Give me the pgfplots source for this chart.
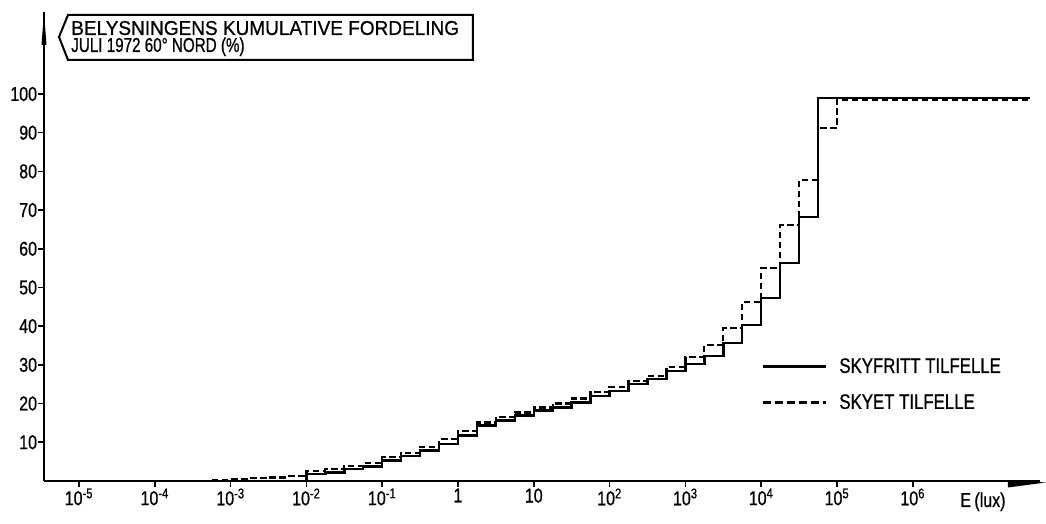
\documentclass[border=0pt]{standalone}
\usepackage{fontspec}
\setmainfont{Liberation Sans}[FakeStretch=0.87]
\newfontfamily\titlefont{Liberation Sans}[FakeStretch=0.95, FakeBold=0.8]
\newfontfamily\titlefontb{Liberation Sans}[FakeStretch=0.76, FakeBold=0.8]
\newfontfamily\legfont{Liberation Sans}[FakeStretch=0.8, FakeBold=0.8]
\newfontfamily\tickfont{Liberation Sans}[FakeStretch=0.8, FakeBold=0.8]
\usepackage{pgfplots}
\pgfplotsset{compat=1.18}

\pgfplotstableread{
x y
-2.25 0
-2 1.8
-1.75 2.2
-1.5 3.1
-1.25 3.8
-1 5.3
-0.75 6.4
-0.5 7.8
-0.25 9.6
0 11.7
0.25 14.3
0.5 15.6
0.75 16.9
1 18.2
1.25 19.0
1.5 20.3
1.75 22.0
2 23.3
2.25 25.1
2.5 26.4
2.75 28.4
3 30.2
3.25 32.3
3.5 35.7
3.75 40.3
4 47.3
4.25 56.3
4.5 68.2
4.75 99.0
7.55 99.0
}\skyfritt

\pgfplotstableread{
x y
-3.25 0.3
-3 0.5
-2.75 0.7
-2.5 0.9
-2.25 1.2
-2 2.6
-1.75 3.0
-1.5 3.9
-1.25 4.7
-1 6.1
-0.75 7.3
-0.5 8.8
-0.25 10.8
0 13.0
0.25 15.1
0.5 16.5
0.75 17.7
1 19.0
1.25 20.0
1.5 21.3
1.75 22.9
2 24.3
2.25 25.8
2.5 27.2
2.75 29.5
3 32.0
3.25 35.1
3.5 39.5
3.75 46.3
4 55.0
4.25 66.1
4.5 77.8
4.75 91.2
5 98.5
7.55 98.5
}\skyet

\begin{document}
\begin{tikzpicture}
\begin{axis}[
  scale only axis, width=747pt, height=351.75pt,
  xmin=-5.462, xmax=7.678, ymin=0, ymax=121.2,
  axis lines=left,
  axis line style={-, line width=1.5pt},
  clip=false,
  xtick={-5,...,6},
  xticklabels={10\textsuperscript{-5},10\textsuperscript{-4},10\textsuperscript{-3},10\textsuperscript{-2},10\textsuperscript{-1},1,10,10\textsuperscript{2},10\textsuperscript{3},10\textsuperscript{4},10\textsuperscript{5},10\textsuperscript{6}},
  ytick={10,20,...,100},
  tick align=outside,
  major tick length=4.5pt,
  tick style={line width=1.2pt, black},
  /pgf/number format/assume math mode=true,
  tick label style={font=\tickfont\fontsize{15}{15}\selectfont},
  yticklabel style={inner xsep=0.5pt},
  xticklabel style={inner ysep=1pt},
  legend style={draw=none, fill=none, at={(axis cs:4.01,24.9)}, anchor=west,
    inner sep=0pt, font=\legfont\fontsize{15.75}{16}\selectfont, row sep=10.5pt},
  legend cell align=left,
  legend image code/.code={\draw[#1] (0pt,0pt) -- (47pt,0pt); \path (54pt,0pt);},
]
\addplot[const plot mark left, black, line width=1.7pt, dash pattern=on 5pt off 2.5pt, forget plot] table[x=x,y=y] {\skyet};
\addplot[const plot mark left, black, line width=1.9pt] table[x=x,y=y] {\skyfritt};
\addlegendentry{SKYFRITT TILFELLE}
\addlegendimage{black, line width=1.7pt, dash pattern=on 6pt off 3pt}
\addlegendentry{SKYET TILFELLE}
\coordinate (TL) at (axis cs:-6.042,124.29);
\coordinate (BR) at (axis cs:7.758,-11.11);
\end{axis}
\pgfresetboundingbox
\path[use as bounding box] (TL) rectangle (BR);
\begin{scope}[shift={(TL)}, x=0.75pt, y=-0.75pt]
  \draw[line width=1.5pt, line join=miter] (59,37) -- (68,15) -- (473,15) -- (473,60) -- (68,60) -- cycle;
  \node[anchor=north west, inner sep=0pt, align=left, font=\fontsize{15}{12.75}\selectfont] at (71,20.7) {\titlefont BELYSNINGENS KUMULATIVE FORDELING\\\titlefontb JULI 1972 60° NORD (\%)};
  \fill (44,12) -- (46.5,45) -- (41.5,45) -- cycle;
  \fill (1008,480) -- (1046,482.5) -- (1008,487.5) -- cycle;
  \node[anchor=base, inner sep=0pt] at (983,507) {\tickfont\fontsize{15}{15}\selectfont E\,(lux)};
\end{scope}
\end{tikzpicture}
\end{document}
